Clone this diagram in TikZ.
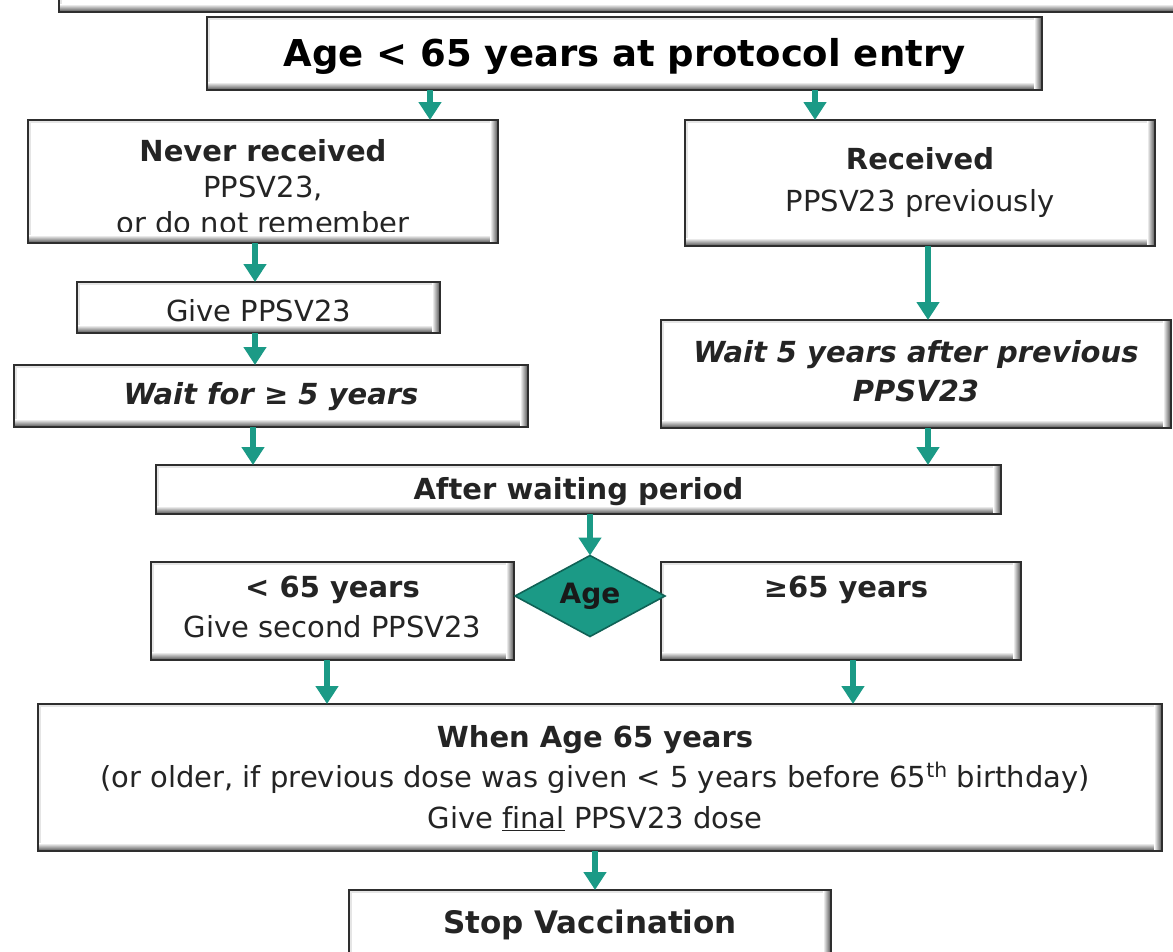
\documentclass[tikz,border=0pt]{standalone}
\usepackage{fontspec}
\setmainfont{DejaVu Sans}[Ligatures=NoCommon]
\usetikzlibrary{arrows.meta,shapes.geometric}
\definecolor{flow}{RGB}{27,154,134}
\definecolor{flowdark}{RGB}{16,98,86}
\definecolor{ink}{RGB}{36,36,36}

\tikzset{
  box/.style={rectangle, draw=black!82, line width=1.6pt, fill=white,
    inner sep=0pt, outer sep=0pt,
    path picture={
      \fill[black!10] (path picture bounding box.north west) rectangle
        ([yshift=-3pt]path picture bounding box.north east);
      \fill[black!10] (path picture bounding box.north west) rectangle
        ([xshift=3pt]path picture bounding box.south west);
      \shade[top color=white, bottom color=black!70]
        (path picture bounding box.south west) rectangle
        ([yshift=8pt]path picture bounding box.south east);
      \shade[left color=white, right color=black!70]
        ([xshift=-8pt]path picture bounding box.south east) rectangle
        (path picture bounding box.north east);
    }},
  lbl/.style={anchor=base, inner sep=0pt, outer sep=0pt, text=ink,
    align=center, font=\fontsize{29}{36}\selectfont},
  hd/.style={lbl, font=\bfseries\fontsize{29}{36}\selectfont},
  hdi/.style={lbl, font=\bfseries\itshape\fontsize{29}{36}\selectfont},
  arr/.style={flow, line width=6pt, -{Triangle[width=22pt,length=18pt]}},
  decision/.style={diamond, aspect=1.85, fill=flow, draw=flowdark,
    line width=1.6pt, inner sep=0pt, outer sep=0pt,
    minimum width=150pt, minimum height=81pt,
    font=\bfseries\fontsize{28}{34}\selectfont, text=black!90},
}

\begin{document}
\begin{tikzpicture}[x=1pt, y=-1pt]
\useasboundingbox (0,0) rectangle (1173,951);
\clip (0,0) rectangle (1173,951);

% box continuing above the top edge
\node[box, minimum width=1200pt, minimum height=100pt, anchor=south west] (prev) at (59,12) {};

% boxes
\node[box, minimum width=835pt, minimum height=73pt]  (title) at (624.5,53.5) {};
\node[box, minimum width=470pt, minimum height=123pt] (never) at (263,181.5) {};
\node[box, minimum width=470pt, minimum height=126pt] (recv)  at (920,183) {};
\node[box, minimum width=363pt, minimum height=51pt]  (give)  at (258.5,307.5) {};
\node[box, minimum width=514pt, minimum height=62pt]  (waitA) at (271,396) {};
\node[box, minimum width=510pt, minimum height=108pt] (waitB) at (916,374) {};
\node[box, minimum width=845pt, minimum height=49pt]  (after) at (578.5,489.5) {};
\node[box, minimum width=363pt, minimum height=98pt]  (young) at (332.5,611) {};
\node[box, minimum width=360pt, minimum height=98pt]  (old)   at (841,611) {};
\node[box, minimum width=1124pt, minimum height=147pt] (final) at (600,777.5) {};
\node[box, minimum width=482pt, minimum height=70pt]  (stop)  at (590,925) {};

% decision diamond
\node[decision] (age) at (590,596) {Age};

% texts
\node[lbl, font=\bfseries\fontsize{37}{44}\selectfont, text=black] (titleT) at (624.5,66) {Age < 65 years at protocol entry};

\begin{scope}
  \clip (never.north west) rectangle ([yshift=12pt]never.south east);
  \node[hd]  (neverT1) at (263,161) {Never received};
  \node[lbl] (neverT2) at (263,197) {PPSV23,};
  \node[lbl] (neverT3) at (263,233) {or do not remember};
\end{scope}

\node[hd]  (recvT1) at (920,169) {Received};
\node[lbl] (recvT2) at (920,211) {PPSV23 previously};
\node[lbl] (giveT)  at (258.5,321) {Give PPSV23};
\node[hdi] (waitAT) at (271,404) {Wait for ≥ 5 years};
\node[hdi] (waitBT1) at (916,362) {Wait 5 years after previous};
\node[hdi] (waitBT2) at (916,401) {PPSV23};
\node[hd]  (afterT) at (578.5,499) {After waiting period};
\node[hd]  (youngT1) at (332.5,597) {< 65 years};
\node[lbl] (youngT2) at (332.5,637) {Give second PPSV23};
\node[hd]  (oldT) at (846,597) {≥65 years};
\node[hd]  (finalT1) at (595,747) {When Age 65 years};
\node[lbl] (finalT2) at (595,787) {(or older, if previous dose was given < 5 years before 65\textsuperscript{th} birthday)};
\node[lbl] (finalT3) at (595,828) {Give \underline{final} PPSV23 dose};
\node[hd, font=\bfseries\fontsize{31}{38}\selectfont] (stopT) at (590,933) {Stop Vaccination};

% connectors
\coordinate (xa) at (430,0);
\coordinate (xb) at (815,0);
\coordinate (xc) at (255,0);
\coordinate (xd) at (253,0);
\coordinate (xe) at (928,0);
\coordinate (xf) at (327,0);
\coordinate (xg) at (853,0);
\coordinate (xh) at (595,0);

\draw[arr] (title.south -| xa) -- (never.north -| xa);
\draw[arr] (title.south -| xb) -- (recv.north -| xb);
\draw[arr] (never.south -| xc) -- (give.north -| xc);
\draw[arr] (give.south -| xc) -- (waitA.north -| xc);
\draw[arr] (waitA.south -| xd) -- (after.north -| xd);
\draw[arr] (recv.south -| xe) -- (waitB.north -| xe);
\draw[arr] (waitB.south -| xe) -- (after.north -| xe);
\draw[arr] (after.south -| age.north) -- (age.north);
\draw[arr] (young.south -| xf) -- (final.north -| xf);
\draw[arr] (old.south -| xg) -- (final.north -| xg);
\draw[arr] (final.south -| xh) -- (stop.north -| xh);
\end{tikzpicture}
\end{document}
